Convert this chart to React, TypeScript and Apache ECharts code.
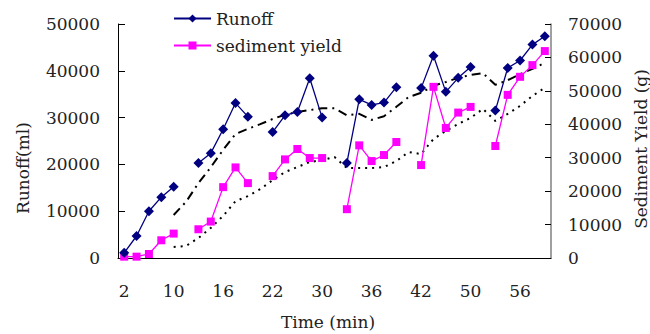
import React, { useEffect, useRef } from "react";
import * as echarts from "echarts";

const times = [2, 4, 6, 8, 10, 12, 14, 15, 16, 18, 19, 20, 22, 24, 26, 28, 30, 32, 33, 34, 36, 38, 40, 41, 42, 44, 46, 48, 50, 52, 53, 54, 56, 58, 60];
const categories = times.map(String);

const runoff = [1100, 4700, 10000, 13000, 15200, null, 20300, 22400, 27500, 33100, 30200, null, 26900, 30500, 31200, 38400, 30000, null, 20300, 33900, 32700, 33200, 36500, null, 36300, 43200, 35500, 38500, 40800, null, 31500, 40600, 42200, 45600, 47400];
const sediment = [400, 400, 1200, 5300, 7300, null, 8600, 10900, 21200, 27100, 22400, null, 24500, 29500, 32600, 29900, 29900, null, 14600, 33700, 29000, 30800, 34700, null, 27800, 51200, 38900, 43500, 45200, null, 33500, 48800, 54200, 57700, 61900];
const runoffTrend = [null, null, null, null, 9200, 12000, 16000, 19400, 23100, 26500, 27600, 28600, 29700, 30600, 31200, 31600, 32000, 32000, 30500, 30800, 29500, 30300, 32300, 34400, 35300, 36800, 37600, 38500, 39100, 39500, 37000, 38000, 39300, 40400, 41700];
const sedimentTrend = [null, null, null, null, 3300, 3600, 6000, 9000, 12600, 17000, 18500, 20600, 23300, 25700, 27200, 28700, 29300, 30200, 26900, 26900, 26900, 27200, 29000, 31700, 31100, 35600, 38000, 40100, 41900, 44600, 41000, 43100, 45500, 48500, 50900];

const FONT = "DejaVu Serif";
const TXT = "#222";
const plain = (v: number) => String(v);

export default function App() {
  const ref = useRef<HTMLDivElement>(null);
  useEffect(() => {
    if (!ref.current) return;
    const chart = echarts.init(ref.current, null, { renderer: "svg" });
    chart.setOption({
      animation: false,
      backgroundColor: "#fff",
      textStyle: { fontFamily: FONT },
      grid: { left: 118, right: 99, top: 24, bottom: 76 },
      legend: {
        orient: "vertical",
        left: 168,
        top: 5,
        itemWidth: 37,
        itemHeight: 10,
        itemGap: 10,
        data: ["Runoff", "sediment yield"],
        textStyle: { fontFamily: FONT, fontSize: 17, color: TXT },
      },
      xAxis: {
        type: "category",
        data: categories,
        boundaryGap: true,
        axisLine: { lineStyle: { color: "#000", width: 1 } },
        axisTick: { inside: true, interval: 0, length: 6, lineStyle: { color: "#000" } },
        axisLabel: { interval: 3, margin: 24, fontFamily: FONT, fontSize: 17, color: TXT },
        splitLine: { show: false },
      },
      yAxis: [
        {
          type: "value",
          min: 0,
          max: 50000,
          interval: 10000,
          axisLine: { show: true, lineStyle: { color: "#000" } },
          axisTick: { show: true, inside: true, length: 7, lineStyle: { color: "#000" } },
          axisLabel: { margin: 18, fontFamily: FONT, fontSize: 17, color: TXT, formatter: plain },
          splitLine: { show: false },
        },
        {
          type: "value",
          min: 0,
          max: 70000,
          interval: 10000,
          position: "right",
          axisLine: { show: true, lineStyle: { color: "#808080", width: 1.5 } },
          axisTick: { show: true, inside: true, length: 6, lineStyle: { color: "#000" } },
          axisLabel: { margin: 17, fontFamily: FONT, fontSize: 17, color: TXT, formatter: plain },
          splitLine: { show: false },
        },
      ],
      graphic: [
        {
          type: "text",
          x: 23,
          y: 168,
          rotation: Math.PI / 2,
          style: { text: "Runoff(ml)", fontFamily: FONT, fontSize: 17, fill: TXT, align: "center", verticalAlign: "middle" },
        },
        {
          type: "text",
          x: 641,
          y: 149,
          rotation: Math.PI / 2,
          style: { text: "Sediment Yield (g)", fontFamily: FONT, fontSize: 17, fill: TXT, align: "center", verticalAlign: "middle" },
        },
        {
          type: "text",
          x: 328,
          y: 322,
          style: { text: "Time (min)", fontFamily: FONT, fontSize: 17, fill: TXT, align: "center", verticalAlign: "middle" },
        },
      ],
      series: [
        {
          name: "Runoff",
          type: "line",
          yAxisIndex: 0,
          data: runoff,
          connectNulls: false,
          showAllSymbol: true,
          symbol: "diamond",
          symbolSize: 10,
          itemStyle: { color: "#000080" },
          lineStyle: { color: "#000080", width: 1.3 },
          z: 4,
        },
        {
          name: "sediment yield",
          type: "line",
          yAxisIndex: 1,
          data: sediment,
          connectNulls: false,
          showAllSymbol: true,
          symbol: "rect",
          symbolSize: 8,
          itemStyle: { color: "#FF00FF" },
          lineStyle: { color: "#FF00FF", width: 1.3 },
          z: 3,
        },
        {
          name: "runoff trend",
          type: "line",
          yAxisIndex: 0,
          data: runoffTrend,
          showSymbol: false,
          symbol: "none",
          lineStyle: { color: "#000", width: 2, type: [9, 5, 2, 5] },
          z: 2,
        },
        {
          name: "sediment trend",
          type: "line",
          yAxisIndex: 1,
          data: sedimentTrend,
          showSymbol: false,
          symbol: "none",
          lineStyle: { color: "#000", width: 2, type: [2, 5] },
          z: 2,
        },
      ],
    });
    return () => chart.dispose();
  }, []);
  return <div ref={ref} style={{ position: "fixed", left: 0, top: 0, width: 650, height: 334 }} />;
}
